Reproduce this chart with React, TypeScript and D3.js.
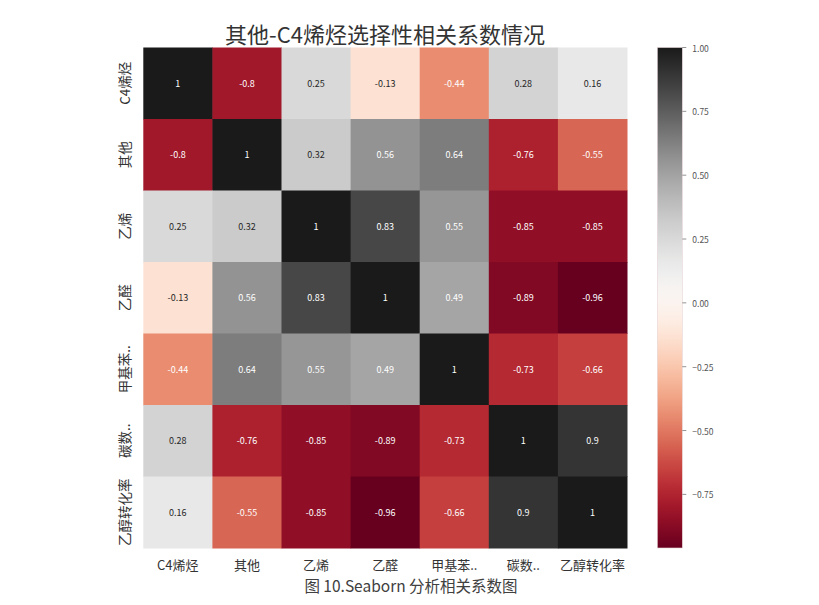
import React from "react";
import * as d3 from "d3";

const labels = ["C4烯烃", "其他", "乙烯", "乙醛", "甲基苯..", "碳数..", "乙醇转化率"];
const row0 = [1, -0.8, 0.25, -0.13, -0.44, 0.28, 0.16];
const row1 = [-0.8, 1, 0.32, 0.56, 0.64, -0.76, -0.55];
const row2 = [0.25, 0.32, 1, 0.83, 0.55, -0.85, -0.85];
const row3 = [-0.13, 0.56, 0.83, 1, 0.49, -0.89, -0.96];
const row4 = [-0.44, 0.64, 0.55, 0.49, 1, -0.73, -0.66];
const row5 = [0.28, -0.76, -0.85, -0.89, -0.73, 1, 0.9];
const row6 = [0.16, -0.55, -0.85, -0.96, -0.66, 0.9, 1];
const matrix = [row0, row1, row2, row3, row4, row5, row6];
const colorTicks = [1.0, 0.75, 0.5, 0.25, 0.0, -0.25, -0.5, -0.75];
const vmin = -0.96;
const vmax = 1.0;
const title = "其他-C4烯烃选择性相关系数情况";
const caption = "图 10.Seaborn 分析相关系数图";

const W = 819, H = 605;
const left = 143.3, top = 47.5, right = 627, bottom = 548;
const cbLeft = 657.3, cbRight = 682.3;
const FONT = "'Noto Sans CJK SC', 'Noto Sans', sans-serif";

function lum(c: string) {
  const rgb = d3.rgb(c);
  const f = (v: number) => {
    const s = v / 255;
    return s <= 0.03928 ? s / 12.92 : Math.pow((s + 0.055) / 1.055, 2.4);
  };
  return 0.2126 * f(rgb.r) + 0.7152 * f(rgb.g) + 0.0722 * f(rgb.b);
}

export default function App() {
  const x = d3.scaleBand<string>().domain(labels).range([left, right]);
  const y = d3.scaleBand<string>().domain(labels).range([top, bottom]);
  const color = (v: number) => d3.interpolateRdGy((v - vmin) / (vmax - vmin));
  const cbY = d3.scaleLinear().domain([vmax, vmin]).range([top, bottom]);
  const stops = d3.range(0, 101).map((i) => {
    const t = i / 100;
    const v = vmax - t * (vmax - vmin);
    return { off: t, c: color(v) };
  });
  const fmt = d3.format(".2f");
  return (
    <svg width={W} height={H} style={{ position: "absolute", left: 0, top: 0, background: "#fff" }} fontFamily={FONT}>
      <defs>
        <linearGradient id="cb" x1="0" y1="0" x2="0" y2="1">
          {stops.map((s, i) => (
            <stop key={i} offset={s.off} stopColor={s.c} />
          ))}
        </linearGradient>
      </defs>
      <text x={385} y={43} textAnchor="middle" fontSize={22} fill="#333">{title}</text>
      {matrix.map((row, i) =>
        row.map((v, j) => {
          const c = color(v);
          const tc = lum(c) > 0.408 ? "#262626" : "#ffffff";
          return (
            <g key={`${i}-${j}`}>
              <rect x={x(labels[j])!} y={y(labels[i])!} width={x.bandwidth() + 0.5} height={y.bandwidth() + 0.5} fill={c} />
              <text
                x={x(labels[j])! + x.bandwidth() / 2}
                y={y(labels[i])! + y.bandwidth() / 2}
                textAnchor="middle"
                dominantBaseline="central"
                fontSize={9}
                fill={tc}
              >
                {String(v)}
              </text>
            </g>
          );
        })
      )}
      {labels.map((l) => (
        <text key={"x" + l} x={x(l)! + x.bandwidth() / 2} y={564.5} textAnchor="middle" dominantBaseline="central" fontSize={13} fill="#333">
          {l}
        </text>
      ))}
      {labels.map((l) => {
        const cy = y(l)! + y.bandwidth() / 2;
        return (
          <text key={"y" + l} x={124} y={cy} transform={`rotate(-90 124 ${cy})`} textAnchor="middle" dominantBaseline="central" fontSize={13.5} fill="#333">
            {l}
          </text>
        );
      })}
      <rect x={cbLeft} y={top} width={cbRight - cbLeft} height={bottom - top} fill="url(#cb)" stroke="#e6d6d8" strokeWidth={0.6} />
      {colorTicks.map((t) => (
        <g key={"t" + t}>
          <line x1={cbRight} x2={cbRight + 4} y1={cbY(t)} y2={cbY(t)} stroke="#777" strokeWidth={0.8} />
          <text x={cbRight + 10} y={cbY(t)} dominantBaseline="central" fontSize={8.5} fill="#555">
            {fmt(t)}
          </text>
        </g>
      ))}
      <text x={411} y={592} textAnchor="middle" fontSize={15.5} fill="#404040">{caption}</text>
    </svg>
  );
}
